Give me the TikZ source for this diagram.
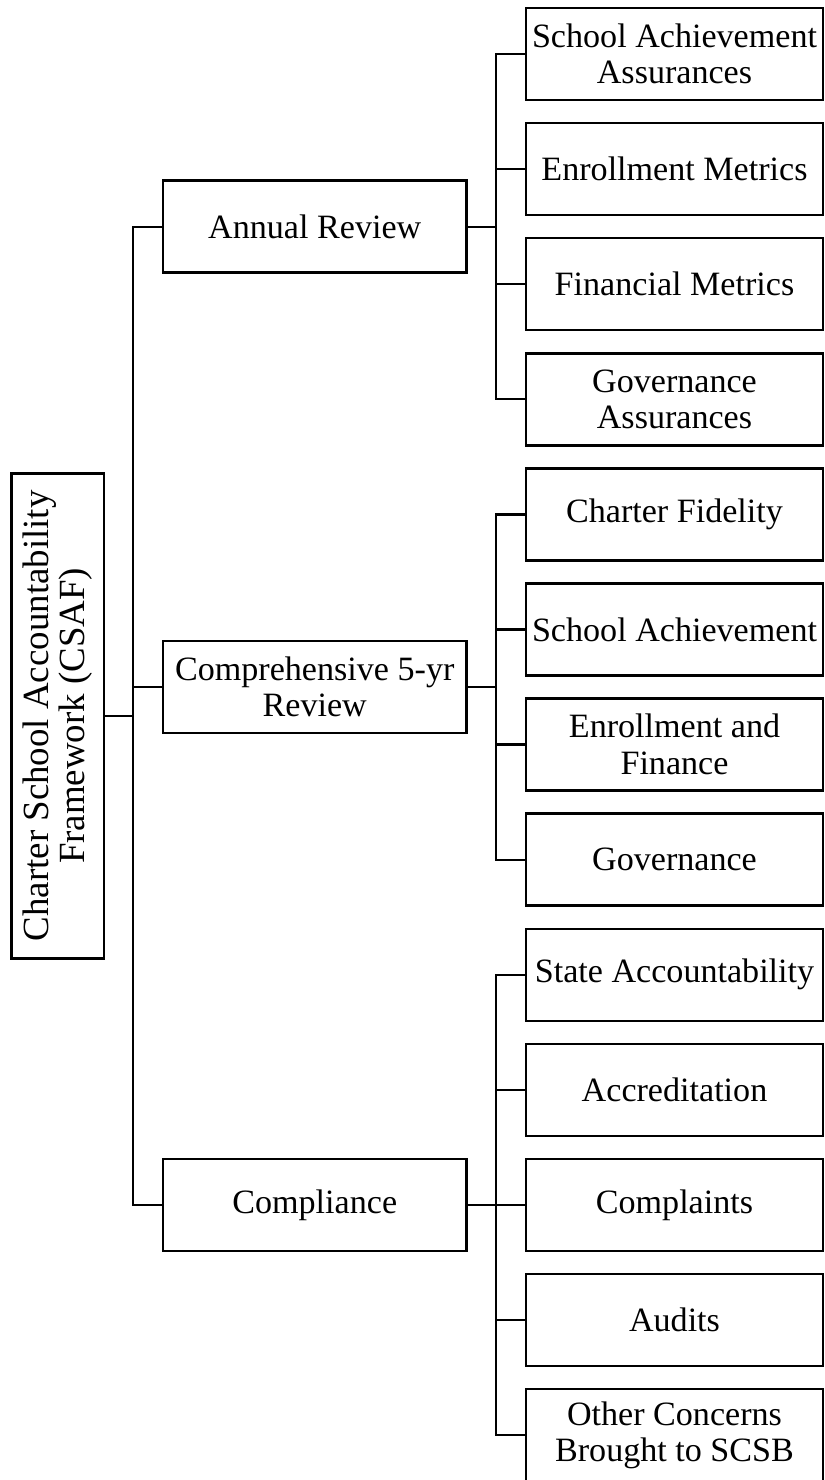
\documentclass[tikz,border=0pt]{standalone}
\usepackage{fontspec}
\setmainfont{Liberation Serif}

\tikzset{
  box/.style={draw, line width=1.4pt, align=center, inner sep=0pt,
    font=\fontsize{19.4}{20.8}\selectfont},
  leaf/.style={box, minimum width=5.94cm, minimum height=1.84cm},
  review/.style={box, minimum width=6.07cm, minimum height=1.84cm},
  link/.style={line width=1.3pt}
}

\begin{document}
\begin{tikzpicture}
\useasboundingbox (0,0) rectangle (16.48,-29.6);

% framework box, text turned up the page
\node [box, rotate=90, minimum width=9.7cm, minimum height=1.85cm,
  font=\fontsize{21}{19}\selectfont] (csaf) at (1.155,-14.317)
  {Charter School Accountability\\Framework (CSAF)};

\node [review] (annual) at (6.295,-4.533) {Annual Review};
\node [review] (fiveyr) at (6.295,-13.741) {Comprehensive 5-yr\\Review};
\node [review] (compl) at (6.295,-24.1) {Compliance};

\node [leaf] (schach) at (13.49,-1.08) {School Achievement\\Assurances};
\node [leaf] (enrmet) at (13.49,-3.382) {Enrollment Metrics};
\node [leaf] (finmet) at (13.49,-5.684) {Financial Metrics};
\node [leaf] (govass) at (13.49,-7.986) {Governance\\Assurances};

\node [leaf] (fidel) at (13.49,-10.288) {Charter Fidelity};
\node [leaf] (achiev) at (13.49,-12.59) {School Achievement};
\node [leaf] (enrfin) at (13.49,-14.892) {Enrollment and\\Finance};
\node [leaf] (govern) at (13.49,-17.194) {Governance};

\node [leaf] (state) at (13.49,-19.496) {State Accountability};
\node [leaf] (accred) at (13.49,-21.798) {Accreditation};
\node [leaf] (complt) at (13.49,-24.1) {Complaints};
\node [leaf] (audits) at (13.49,-26.402) {Audits};
\node [leaf] (other) at (13.49,-28.704) {Other Concerns\\Brought to SCSB};

\coordinate (trunk) at (2.66,0);
\coordinate (bus) at (9.92,0);

% root to the three reviews
\draw [link] (csaf.south) -- (csaf.south -| trunk);
\draw [link] (annual.west) -- (annual.west -| trunk) |- (compl.west);
\draw [link] (fiveyr.west) -- (fiveyr.west -| trunk);

% annual review
\draw [link] (annual.east) -- (annual.east -| bus);
\draw [link] (schach.west) -- (schach.west -| bus) |- (govass.west);
\draw [link] (enrmet.west) -- (enrmet.west -| bus);
\draw [link] (finmet.west) -- (finmet.west -| bus);

% 5-yr review
\draw [link] (fiveyr.east) -- (fiveyr.east -| bus);
\draw [link] (fidel.west) -- (fidel.west -| bus) |- (govern.west);
\draw [link] (achiev.west) -- (achiev.west -| bus);
\draw [link] (enrfin.west) -- (enrfin.west -| bus);

% compliance
\draw [link] (compl.east) -- (compl.east -| bus);
\draw [link] (state.west) -- (state.west -| bus) |- (other.west);
\draw [link] (accred.west) -- (accred.west -| bus);
\draw [link] (complt.west) -- (complt.west -| bus);
\draw [link] (audits.west) -- (audits.west -| bus);

\end{tikzpicture}
\end{document}
